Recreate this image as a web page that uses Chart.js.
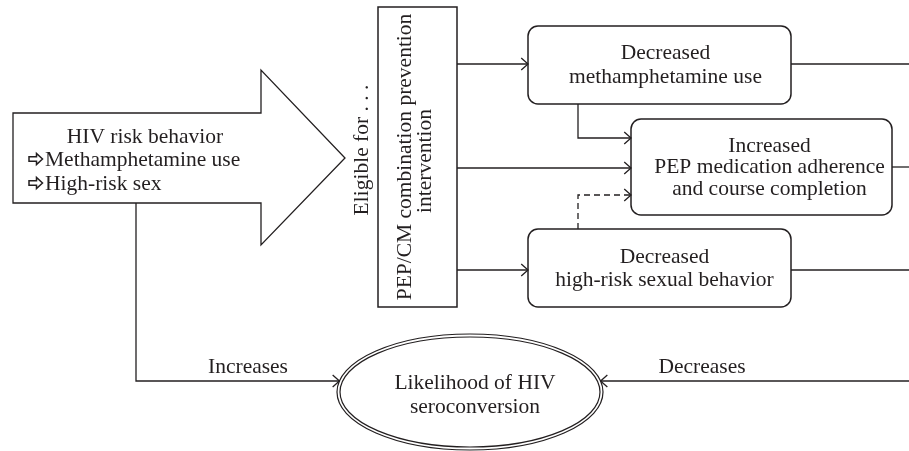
<!DOCTYPE html>
<html><head><meta charset="utf-8">
<script src="https://cdn.jsdelivr.net/npm/chart.js@4/dist/chart.umd.min.js"></script>
<style>html,body{margin:0;padding:0;background:#fff;overflow:hidden}</style>
</head><body>
<canvas id="c" width="909" height="451"></canvas>
<script>
// ---- text content ----
const riskTitle = ['HIV risk behavior'];
const riskItems = ['Methamphetamine use', 'High-risk sex'];
const eligibleLabel = ['Eligible for . . .'];
const interventionLabel = ['PEP/CM combination prevention', 'intervention'];
const methLabel = ['Decreased', 'methamphetamine use'];
const pepLabel = ['Increased', 'PEP medication adherence', 'and course completion'];
const sexLabel = ['Decreased', 'high-risk sexual behavior'];
const outcomeLabel = ['Likelihood of HIV', 'seroconversion'];
const edgeLabels = ['Increases', 'Decreases'];

// ---- layout (diagram units on the chart's x / y scales) ----
const L = {
  arrow: {x0: 13, x1: 261, yTop: 113, yBot: 203, headTop: 70, headBot: 245, tipX: 345},
  inter: {x0: 378, y0: 7, x1: 457, y1: 307},
  meth: {x0: 528, y0: 26, x1: 791, y1: 104, tx: 665.5, ty: [53, 77]},
  pep: {x0: 631, y0: 119, x1: 892, y1: 215, tx: 769.5, ty: [146, 167.5, 189]},
  sex: {x0: 528, y0: 229, x1: 791, y1: 307, tx: 664.5, ty: [257, 280]},
  ell: {cx: 470, cy: 392, rx: 133, ry: 58, gap: 3, tx: 475, ty: [383, 407]},
  rows: [64, 168, 270],
  rightEdge: 909,
  busY: 381,
  stemX: 136,
  crossX: 578,
  crossY: [138, 195],
  riskText: {cx: 145, x: 29, textX: 45, ty: [137, 160, 184]},
  eligible: {x: 362, y: 150},
  interText: {x: [405, 425], y: [157, 161]},
  edgeText: {x: [248, 702], y: 367}
};
const INK = '#231f20';
const FONT = '"Liberation Serif", "Times New Roman", serif';
const FS = 21.5;

function ellX(y, side) {
  const e = L.ell;
  const t = (y - e.cy) / e.ry;
  return e.cx + side * e.rx * Math.sqrt(Math.max(0, 1 - t * t));
}

// connectors built from the layout
const connectors = [
  {pts: [[L.inter.x1, L.rows[0]], [L.meth.x0, L.rows[0]]], arrow: true},
  {pts: [[L.inter.x1, L.rows[1]], [L.pep.x0, L.rows[1]]], arrow: true},
  {pts: [[L.inter.x1, L.rows[2]], [L.sex.x0, L.rows[2]]], arrow: true},
  {pts: [[L.crossX, L.meth.y1], [L.crossX, L.crossY[0]], [L.pep.x0, L.crossY[0]]], arrow: true},
  {pts: [[L.crossX, L.sex.y0], [L.crossX, L.crossY[1]], [L.pep.x0, L.crossY[1]]], arrow: true, dash: [6, 4]},
  {pts: [[L.meth.x1, L.rows[0]], [L.rightEdge, L.rows[0]]]},
  {pts: [[L.pep.x1, 167], [L.rightEdge, 167]]},
  {pts: [[L.sex.x1, L.rows[2]], [L.rightEdge, L.rows[2]]]},
  {pts: [[L.stemX, L.arrow.yBot], [L.stemX, L.busY], [ellX(L.busY, -1), L.busY]], arrow: true},
  {pts: [[L.rightEdge, L.busY], [ellX(L.busY, 1), L.busY]], arrow: true}
];

const datasets = connectors.map(c => ({
  data: c.pts.map(p => ({x: p[0], y: p[1]})),
  showLine: true,
  borderColor: INK,
  borderWidth: 1.3,
  borderDash: c.dash || [],
  pointRadius: 0,
  fill: false,
  tension: 0,
  arrow: !!c.arrow
}));

function roundRect(ctx, x0, y0, x1, y1, r) {
  ctx.beginPath();
  ctx.moveTo(x0 + r, y0);
  ctx.lineTo(x1 - r, y0);
  ctx.arcTo(x1, y0, x1, y0 + r, r);
  ctx.lineTo(x1, y1 - r);
  ctx.arcTo(x1, y1, x1 - r, y1, r);
  ctx.lineTo(x0 + r, y1);
  ctx.arcTo(x0, y1, x0, y1 - r, r);
  ctx.lineTo(x0, y0 + r);
  ctx.arcTo(x0, y0, x0 + r, y0, r);
  ctx.closePath();
}

// hollow right-pointing bullet arrow (⇨)
function bulletArrow(ctx, x, y) {
  ctx.save();
  ctx.lineWidth = 1.5;
  ctx.lineJoin = 'miter';
  ctx.beginPath();
  ctx.moveTo(x, y - 2.2);
  ctx.lineTo(x + 7.5, y - 2.2);
  ctx.lineTo(x + 7.5, y - 5.5);
  ctx.lineTo(x + 13.5, y);
  ctx.lineTo(x + 7.5, y + 5.5);
  ctx.lineTo(x + 7.5, y + 2.2);
  ctx.lineTo(x, y + 2.2);
  ctx.closePath();
  ctx.stroke();
  ctx.restore();
}

const diagramPlugin = {
  id: 'diagram',
  beforeDatasetsDraw(chart) {
    const ctx = chart.ctx, xs = chart.scales.x, ys = chart.scales.y;
    const X = v => xs.getPixelForValue(v), Y = v => ys.getPixelForValue(v);
    ctx.save();
    ctx.strokeStyle = INK;
    ctx.fillStyle = '#fff';
    ctx.lineJoin = 'miter';
    const a = L.arrow;
    ctx.lineWidth = 1.3;
    ctx.beginPath();
    ctx.moveTo(X(a.x0), Y(a.yTop));
    ctx.lineTo(X(a.x1), Y(a.yTop));
    ctx.lineTo(X(a.x1), Y(a.headTop));
    ctx.lineTo(X(a.tipX), Y((a.yTop + a.yBot) / 2));
    ctx.lineTo(X(a.x1), Y(a.headBot));
    ctx.lineTo(X(a.x1), Y(a.yBot));
    ctx.lineTo(X(a.x0), Y(a.yBot));
    ctx.closePath();
    ctx.fill(); ctx.stroke();
    const r = L.inter;
    ctx.lineWidth = 1.5;
    ctx.beginPath();
    ctx.rect(X(r.x0), Y(r.y0), X(r.x1) - X(r.x0), Y(r.y1) - Y(r.y0));
    ctx.stroke();
    ctx.restore();
  },
  afterDatasetsDraw(chart) {
    const ctx = chart.ctx, xs = chart.scales.x, ys = chart.scales.y;
    const X = v => xs.getPixelForValue(v), Y = v => ys.getPixelForValue(v);
    ctx.save();
    ctx.strokeStyle = INK;
    ctx.lineWidth = 1.5;
    [L.meth, L.pep, L.sex].forEach(b => {
      roundRect(ctx, X(b.x0), Y(b.y0), X(b.x1), Y(b.y1), 10);
      ctx.fillStyle = '#fff';
      ctx.fill();
      ctx.stroke();
    });
    const e = L.ell;
    ctx.lineWidth = 1.2;
    ctx.fillStyle = '#fff';
    ctx.beginPath();
    ctx.ellipse(X(e.cx), Y(e.cy), e.rx, e.ry, 0, 0, Math.PI * 2);
    ctx.fill(); ctx.stroke();
    ctx.beginPath();
    ctx.ellipse(X(e.cx), Y(e.cy), e.rx - e.gap, e.ry - e.gap, 0, 0, Math.PI * 2);
    ctx.stroke();
    ctx.lineWidth = 1.3;
    ctx.setLineDash([]);
    chart.data.datasets.forEach((ds, i) => {
      if (!ds.arrow) return;
      const pts = chart.getDatasetMeta(i).data;
      const p1 = pts[pts.length - 1], p0 = pts[pts.length - 2];
      const ang = Math.atan2(p1.y - p0.y, p1.x - p0.x);
      const len = 9, half = 0.72;
      ctx.beginPath();
      ctx.moveTo(p1.x - len * Math.cos(ang - half), p1.y - len * Math.sin(ang - half));
      ctx.lineTo(p1.x, p1.y);
      ctx.lineTo(p1.x - len * Math.cos(ang + half), p1.y - len * Math.sin(ang + half));
      ctx.stroke();
    });
    ctx.fillStyle = INK;
    ctx.textBaseline = 'middle';
    ctx.font = FS + 'px ' + FONT;
    ctx.textAlign = 'center';
    const t = L.riskText;
    ctx.fillText(riskTitle[0], X(t.cx), Y(t.ty[0]));
    ctx.textAlign = 'left';
    riskItems.forEach((s, i) => {
      bulletArrow(ctx, X(t.x), Y(t.ty[i + 1]) - 1);
      ctx.fillText(s, X(t.textX), Y(t.ty[i + 1]));
    });
    ctx.textAlign = 'center';
    [[L.meth, methLabel], [L.pep, pepLabel], [L.sex, sexLabel], [L.ell, outcomeLabel]].forEach(([b, lab]) => {
      lab.forEach((s, i) => ctx.fillText(s, X(b.tx), Y(b.ty[i])));
    });
    edgeLabels.forEach((s, i) => ctx.fillText(s, X(L.edgeText.x[i]), Y(L.edgeText.y)));
    const rot = (s, x, y) => {
      ctx.save();
      ctx.translate(X(x), Y(y));
      ctx.rotate(-Math.PI / 2);
      ctx.fillText(s, 0, 0);
      ctx.restore();
    };
    rot(eligibleLabel[0], L.eligible.x, L.eligible.y);
    interventionLabel.forEach((s, i) => rot(s, L.interText.x[i], L.interText.y[i]));
    ctx.restore();
  }
};

new Chart(document.getElementById('c'), {
  type: 'scatter',
  data: {datasets},
  options: {
    responsive: false,
    animation: false,
    layout: {padding: 0},
    plugins: {legend: {display: false}, tooltip: {enabled: false}, title: {display: false}},
    scales: {
      x: {type: 'linear', min: 0, max: 909, display: false},
      y: {type: 'linear', min: 0, max: 451, reverse: true, display: false}
    },
    elements: {line: {borderCapStyle: 'butt'}}
  },
  plugins: [diagramPlugin]
});
</script>
</body></html>
